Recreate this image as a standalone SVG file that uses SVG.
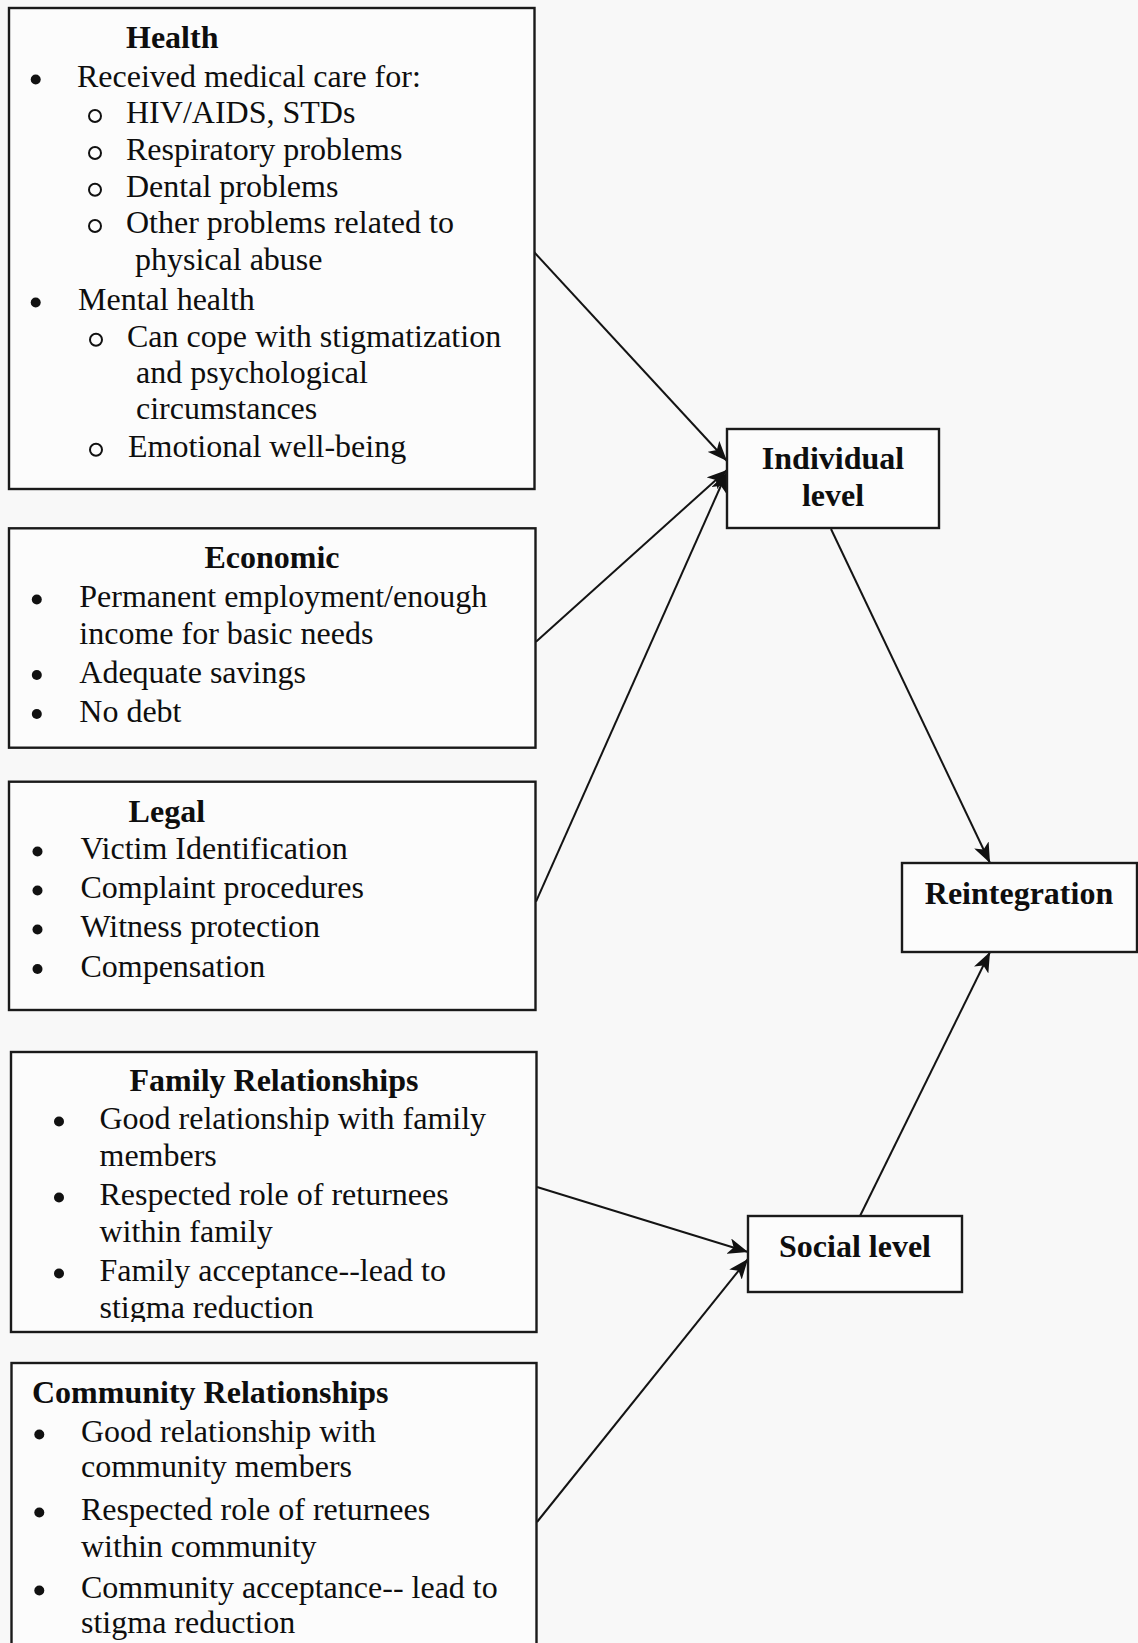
<svg xmlns="http://www.w3.org/2000/svg" width="1138" height="1643" viewBox="0 0 1138 1643">
<defs>
<style>
.box{fill:#fcfcfc;stroke:#1a1a1a;stroke-width:2.4}
.t{font-family:"Liberation Serif","Times New Roman",serif;font-size:32px;fill:#0e0e0e}
.b{font-weight:bold}
.c{text-anchor:middle}
.dot{fill:#111}
.ring{fill:none;stroke:#111;stroke-width:2}
.con{stroke:#141414;stroke-width:2;fill:none;marker-end:url(#ah)}
</style>
<marker id="ah" markerUnits="userSpaceOnUse" markerWidth="21" markerHeight="16" refX="20" refY="8" orient="auto" viewBox="0 0 21 16">
<path d="M0,0 L20,8 L0,16 L5,8 z" fill="#111"/>
</marker>
<clipPath id="famclip"><rect x="0" y="1040" width="560" height="282"/></clipPath>
</defs>
<rect x="0" y="0" width="1138" height="1643" fill="#f8f8f8"/>

<g id="connectors">
<line class="con" x1="534" y1="252" x2="727" y2="461"/>
<line class="con" x1="536" y1="641.7" x2="727" y2="470"/>
<line class="con" x1="536" y1="901.7" x2="727" y2="472"/>
<line class="con" x1="831" y1="529" x2="990" y2="863"/>
<line class="con" x1="860" y1="1216" x2="990" y2="952"/>
<line class="con" x1="537" y1="1187" x2="748" y2="1252"/>
<line class="con" x1="537" y1="1522" x2="748" y2="1259"/>
</g>

<g id="health">
<rect class="box" x="9" y="8" width="525.5" height="481"/>
<text class="t b" x="126" y="47.7">Health</text>
<circle class="dot" cx="35.7" cy="79.5" r="5"/>
<text class="t" x="77" y="87.3">Received medical care for:</text>
<circle class="ring" cx="95" cy="116" r="6"/>
<text class="t" x="126" y="123">HIV/AIDS, STDs</text>
<circle class="ring" cx="95" cy="153" r="6"/>
<text class="t" x="126" y="160">Respiratory problems</text>
<circle class="ring" cx="95" cy="189.7" r="6"/>
<text class="t" x="126" y="196.7">Dental problems</text>
<circle class="ring" cx="95" cy="226" r="6"/>
<text class="t" x="126" y="233">Other problems related to</text>
<text class="t" x="135" y="270">physical abuse</text>
<circle class="dot" cx="35.7" cy="302.5" r="5"/>
<text class="t" x="78" y="310">Mental health</text>
<circle class="ring" cx="96" cy="339.7" r="6"/>
<text class="t" x="127" y="346.7">Can cope with stigmatization</text>
<text class="t" x="136" y="383">and psychological</text>
<text class="t" x="136" y="419">circumstances</text>
<circle class="ring" cx="96" cy="449.7" r="6"/>
<text class="t" x="128" y="456.7">Emotional well-being</text>
</g>

<g id="economic">
<rect class="box" x="9" y="528.3" width="526.5" height="219.4"/>
<text class="t b c" x="272" y="568.3">Economic</text>
<circle class="dot" cx="36.8" cy="599.5" r="5"/>
<text class="t" x="79.3" y="607.3">Permanent employment/enough</text>
<text class="t" x="79.3" y="644">income for basic needs</text>
<circle class="dot" cx="36.8" cy="675" r="5"/>
<text class="t" x="79.3" y="682.7">Adequate savings</text>
<circle class="dot" cx="36.8" cy="714" r="5"/>
<text class="t" x="79.3" y="721.7">No debt</text>
</g>

<g id="legal">
<rect class="box" x="9" y="781.7" width="526.5" height="228.3"/>
<text class="t b" x="128.6" y="821.7">Legal</text>
<circle class="dot" cx="37.5" cy="851.5" r="5"/>
<text class="t" x="80.4" y="859.3">Victim Identification</text>
<circle class="dot" cx="37.5" cy="890.5" r="5"/>
<text class="t" x="80.4" y="898.3">Complaint procedures</text>
<circle class="dot" cx="37.5" cy="929.5" r="5"/>
<text class="t" x="80.4" y="937.3">Witness protection</text>
<circle class="dot" cx="37.5" cy="969" r="5"/>
<text class="t" x="80.4" y="976.7">Compensation</text>
</g>

<g id="family">
<rect class="box" x="11" y="1052" width="525.5" height="280"/>
<g clip-path="url(#famclip)">
<text class="t b c" x="274" y="1091">Family Relationships</text>
<circle class="dot" cx="59" cy="1121.5" r="5"/>
<text class="t" x="99.5" y="1129">Good relationship with family</text>
<text class="t" x="99.5" y="1166">members</text>
<circle class="dot" cx="59" cy="1197.5" r="5"/>
<text class="t" x="99.5" y="1205">Respected role of returnees</text>
<text class="t" x="99.5" y="1242">within family</text>
<circle class="dot" cx="59" cy="1273.5" r="5"/>
<text class="t" x="99.5" y="1281">Family acceptance--lead to</text>
<text class="t" x="99.5" y="1318">stigma reduction</text>
</g>
</g>

<g id="community">
<rect class="box" x="11.5" y="1363" width="525" height="300"/>
<text class="t b" x="32" y="1403">Community Relationships</text>
<circle class="dot" cx="39.3" cy="1434.5" r="5"/>
<text class="t" x="81" y="1442">Good relationship with</text>
<text class="t" x="81" y="1477">community members</text>
<circle class="dot" cx="39.3" cy="1512.5" r="5"/>
<text class="t" x="81" y="1520">Respected role of returnees</text>
<text class="t" x="81" y="1557">within community</text>
<circle class="dot" cx="39.3" cy="1590.5" r="5"/>
<text class="t" x="81" y="1598">Community acceptance-- lead to</text>
<text class="t" x="81" y="1633">stigma reduction</text>
</g>

<g id="individual">
<rect class="box" x="727" y="429" width="212" height="99"/>
<text class="t b c" x="833" y="469">Individual</text>
<text class="t b c" x="833" y="506">level</text>
</g>

<g id="reintegration">
<rect class="box" x="902" y="863" width="235" height="89"/>
<text class="t b c" x="1019" y="904">Reintegration</text>
</g>

<g id="social">
<rect class="box" x="748" y="1216" width="214" height="76"/>
<text class="t b c" x="855" y="1257">Social level</text>
</g>
</svg>
